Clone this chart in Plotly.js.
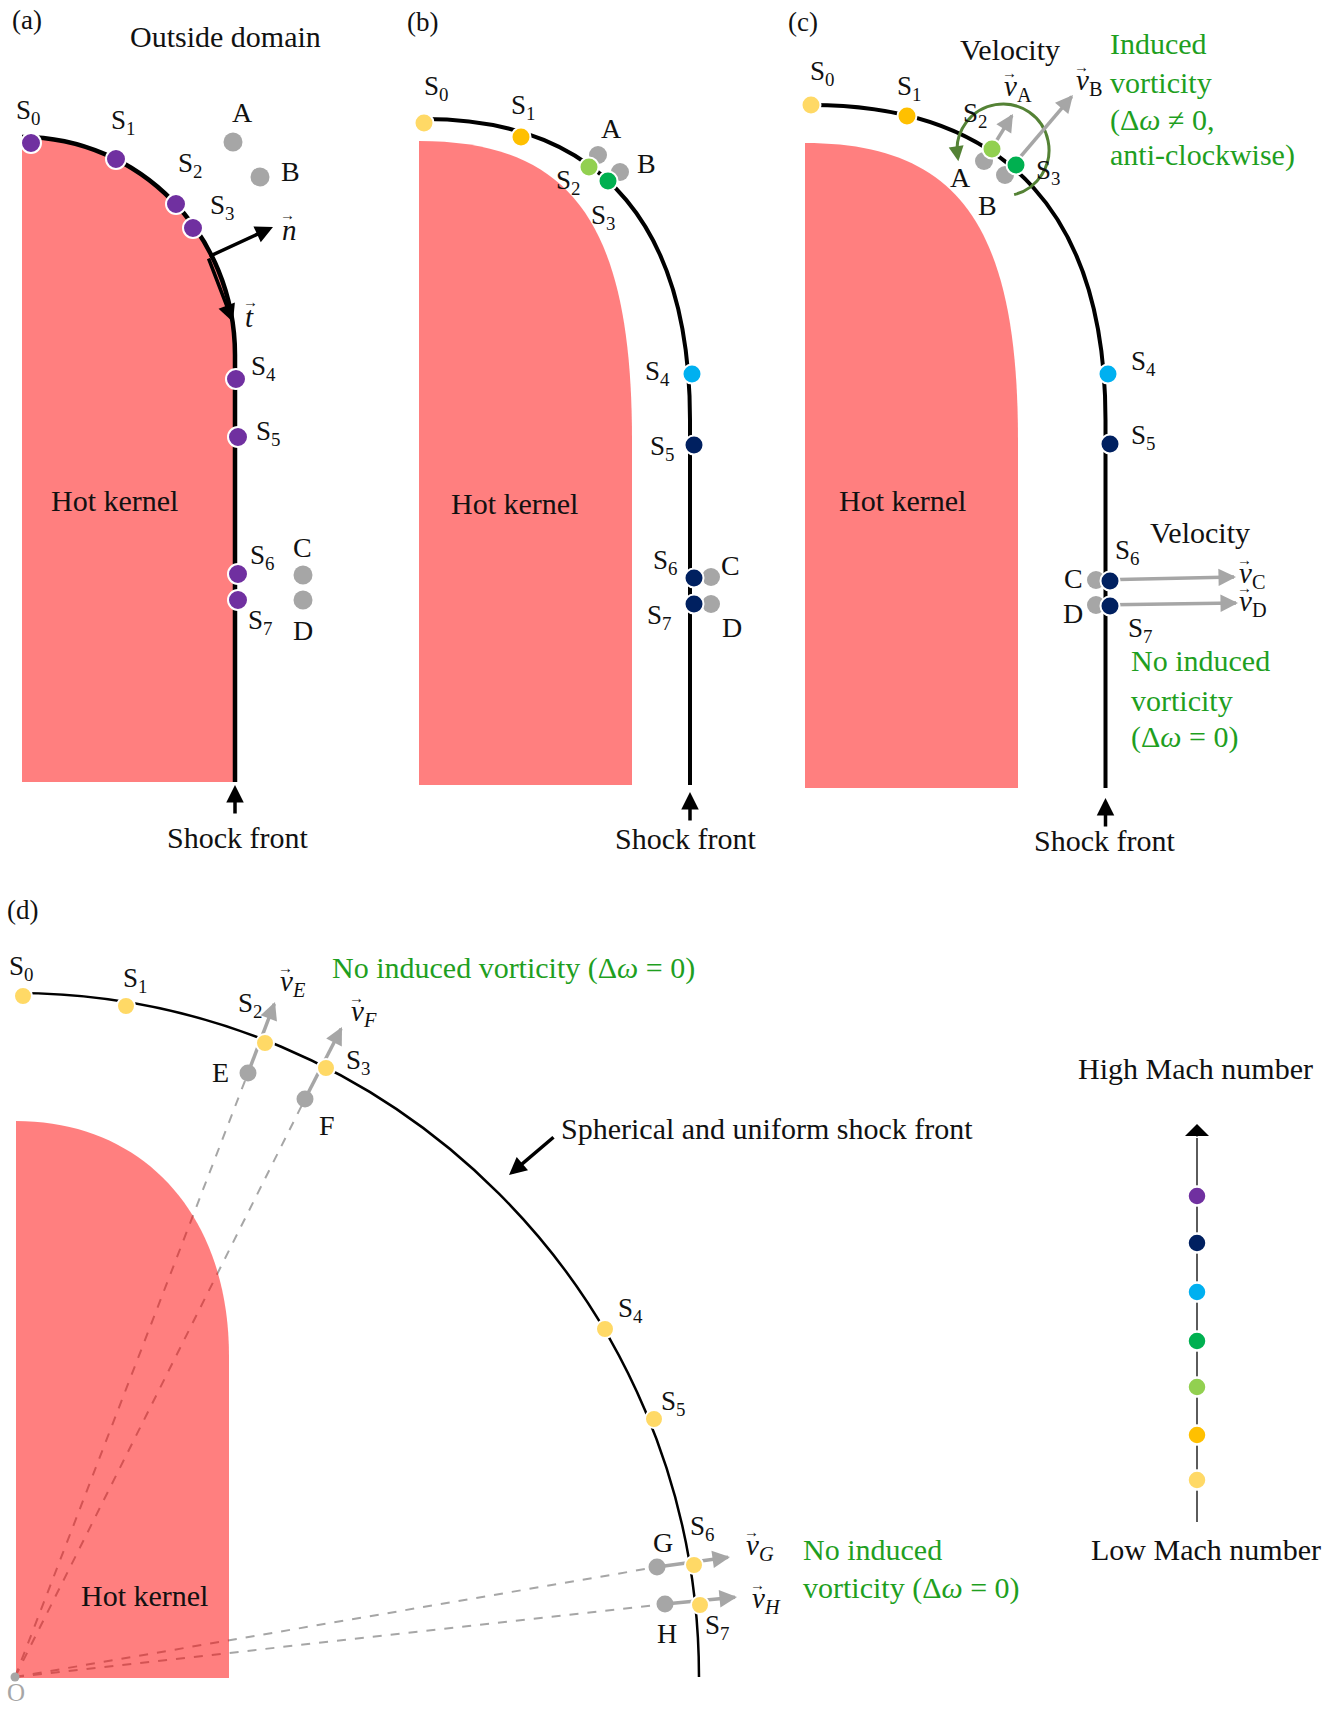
<!DOCTYPE html>
<html><head><meta charset="utf-8">
<script src="https://cdn.plot.ly/plotly-3.0.1.min.js"></script>
<style>body{margin:0;background:#fff}</style>
</head><body><div id="chart" style="width:1336px;height:1709px"></div>
<script>
// ---------- data ----------
const machColors = ['#FFD966','#FFC000','#92D050','#00B050','#00B0F0','#002060','#7030A0']; // low -> high Mach
const legendX = 1197;
const legendY = [1480,1435,1387,1341,1292,1243,1196];

const sNames = ['0','1','2','3','4','5','6','7'];
// panel (a)
const aDotX = [31,116,176,193,236,238,238,238];
const aDotY = [143,159,204,228,379,437,574,600];
const aLabX = [28,123,190,222,263,268,262,260];
const aLabY = [112,122,165,207,368,433,557,622];
const aColorIdx = [6,6,6,6,6,6,6,6];
// panel (b)
const bDotX = [424,521,589,608,692,694,694,694];
const bDotY = [123,137,167,181,374,445,578,604];
const bLabX = [436,523,568,603,657,662,665,659];
const bLabY = [88,107,182,217,373,448,562,617];
const bColorIdx = [0,1,2,3,4,5,5,5];
// panel (c)
const cDotX = [811,907,992,1016,1108,1110,1110,1110];
const cDotY = [105,116,149,165,374,444,581,606];
const cLabX = [822,909,975,1048,1143,1143,1127,1140];
const cLabY = [73,88,115,172,363,437,552,630];
const cColorIdx = [0,1,2,3,4,5,5,5];
// panel (d)
const dDotX = [23,126,265,326,605,654,694,700];
const dDotY = [996,1006,1043,1068,1329,1419,1565,1605];
const dLabX = [21,135,250,358,630,673,702,717];
const dLabY = [968,980,1005,1062,1310,1403,1528,1627];
const dColorIdx = [0,0,0,0,0,0,0,0];

// gray fluid particles
const abcNames = ['A','B','C','D'];
const aGrayX = [233,260,303,303], aGrayY = [142,177,575,600];
const aGrayLabX = [242,290,302,303], aGrayLabY = [112,171,547,630];
const bGrayX = [598,620,711,711], bGrayY = [155,172,577,604];
const bGrayLabX = [611,646,730,732], bGrayLabY = [128,163,565,627];
const cGrayX = [984,1005,1096,1096], cGrayY = [161,175,580,605];
const cGrayLabX = [960,987,1073,1073], cGrayLabY = [177,205,578,613];
const efghNames = ['E','F','G','H'];
const dGrayX = [248,305,657,665], dGrayY = [1073,1099,1567,1604];
const dGrayLabX = [220,327,663,667], dGrayLabY = [1072,1125,1542,1633];
const originX = 15, originY = 1677;

// velocity vectors: tips and label anchors
const cVecTipX = [1013,1073,1236,1238], cVecTipY = [114,95,577,603];
const cVecLabX = [1002,1074,1237,1237], cVecLabY = [88,82,575,603];
const dVecTipX = [275,342,730,737], dVecTipY = [1002,1027,1557,1597];
const dVecLabX = [278,349,744,750], dVecLabY = [983,1013,1547,1600];

// ---------- style ----------
const GRAY = '#A6A6A6', GREEN = '#1f9f1f', DARKGREEN = '#548235', TXT = '#111';
const KERNEL = 'rgba(255,0,0,0.5)';
const FONT = 'Liberation Serif';
const FS = 30;

// ---------- geometry helpers ----------
function kernelPath(left, top, right, yv, bottom, k){
  const w = right-left, h = yv-top;
  return `M ${left},${bottom} L ${left},${top} C ${left+k*w},${top} ${right},${yv-k*h} ${right},${yv} L ${right},${bottom} Z`;
}
function frontPath(x0, y0, xv, yv, bottom, c1, c2){
  return `M ${x0},${y0} C ${x0+c1},${y0} ${xv},${yv-c2} ${xv},${yv} L ${xv},${bottom}`;
}
function arcPath(cx, cy, r, a0, a1){
  const n = Math.ceil(Math.abs(a1-a0)/90), step = (a1-a0)/n, rad = Math.PI/180;
  const P = a => [cx+r*Math.cos(a*rad), cy-r*Math.sin(a*rad)];
  const D = a => [-Math.sin(a*rad), -Math.cos(a*rad)];
  const h = 4/3*Math.tan(step*rad/4)*r;
  let s = 'M '+P(a0).join(',');
  for(let i=0;i<n;i++){
    const t0=a0+i*step, t1=t0+step, p0=P(t0), p3=P(t1), d0=D(t0), d1=D(t1);
    s += ` C ${p0[0]+h*d0[0]},${p0[1]+h*d0[1]} ${p3[0]-h*d1[0]},${p3[1]-h*d1[1]} ${p3[0]},${p3[1]}`;
  }
  return s;
}
function arcPoint(cx,cy,r,a){const rad=Math.PI/180;return [cx+r*Math.cos(a*rad), cy-r*Math.sin(a*rad)];}

const shapes = [];
const annotations = [];
function line(x0,y0,x1,y1,color,width,dash){
  shapes.push({type:'line',xref:'x',yref:'y',x0,y0,x1,y1,layer:'below',line:{color,width,dash:dash||'solid'}});
}
function arrow(x0,y0,x1,y1,color,width,head,size){
  annotations.push({x:x1,y:y1,ax:x0,ay:y0,xref:'x',yref:'y',axref:'x',ayref:'y',text:'',showarrow:true,
    arrowhead:head,arrowsize:size,arrowwidth:width,arrowcolor:color,standoff:0,startstandoff:0});
}
// shaft as shape (under the dots) + head as annotation
function vecArrow(x0,y0,x1,y1,color,width,head,size,headLen){
  const L = Math.hypot(x1-x0,y1-y0), ux=(x1-x0)/L, uy=(y1-y0)/L;
  line(x0,y0,x1-ux*2,y1-uy*2,color,width);
  arrow(x1-ux*headLen,y1-uy*headLen,x1,y1,color,width,head,size);
}
function text(x,y,t,opts){
  opts = opts||{};
  annotations.push({x,y,xref:'x',yref:'y',text:t,showarrow:false,xanchor:opts.xanchor||'center',yanchor:'middle',
    font:{family:FONT,size:opts.size||FS,color:opts.color||TXT}});
}
function vecLabel(xLeft,yMid,letter,sub,italicSub){
  const s = italicSub ? `<i>${sub}</i>` : sub;
  text(xLeft, yMid, `<i>${letter}</i>` + (sub?`<sub>${s}</sub>`:''), {xanchor:'left', size:29});
  text(xLeft+7, yMid-15, '→', {size:15});
}

// ---------- shapes ----------
// dashed radial lines in (d) (under the kernel)
for(let i=0;i<4;i++) line(originX,originY,dGrayX[i],dGrayY[i],GRAY,2,'dash');

// hot kernels
shapes.push({type:'path',layer:'below',path:kernelPath(22,137,235,355,782,0.5523),fillcolor:KERNEL,line:{width:0}});
shapes.push({type:'path',layer:'below',path:kernelPath(419,141,632,440,785,0.72),fillcolor:KERNEL,line:{width:0}});
shapes.push({type:'path',layer:'below',path:kernelPath(805,143,1018,440,788,0.72),fillcolor:KERNEL,line:{width:0}});
shapes.push({type:'path',layer:'below',path:kernelPath(16,1121,229,1356,1678,0.6),fillcolor:KERNEL,line:{width:0}});

// shock fronts
shapes.push({type:'path',layer:'below',path:frontPath(22,137,235,355,782,0.5523*213,0.5523*218),line:{color:'#000',width:4.5}});
shapes.push({type:'path',layer:'below',path:frontPath(424,119,690,420,785,185,185),line:{color:'#000',width:4}});
shapes.push({type:'path',layer:'below',path:frontPath(811,105,1105.5,420,788,200,200),line:{color:'#000',width:4}});
shapes.push({type:'path',layer:'below',path:frontPath(originX,993,originX+684,originY,originY,0.5523*684,0.5523*684),line:{color:'#000',width:2.5}});

// legend axis line
line(legendX,1522,legendX,1138,'#333',1.6);
arrow(legendX,1138,legendX,1124,'#000',1.6,1,2.5);

// vortex arc (c)
const vx=1003, vy=150, vr=46, va0=-76, va1=192;
shapes.push({type:'path',layer:'below',path:arcPath(vx,vy,vr,va0,va1-5),line:{color:DARKGREEN,width:3}});
{ const t=arcPoint(vx,vy,vr,va1-9), h=arcPoint(vx,vy,vr,va1+2); arrow(t[0],t[1],h[0],h[1],DARKGREEN,3,2,1); }

// normal / tangent vectors (a)
arrow(208,257,273,227,'#000',3.5,2,1);
arrow(208,257,233,322,'#000',3.5,2,1);

// shock front arrows
arrow(235,815,235,785,'#000',3.5,2,1);
arrow(690,822,690,792,'#000',3.5,2,1);
arrow(1105.5,828,1105.5,798,'#000',3.5,2,1);
// spherical front pointer
arrow(555,1136,509,1175,'#000',3.5,2,1);

// velocity vectors (c)
for(let i=0;i<4;i++) vecArrow(cGrayX[i],cGrayY[i],cVecTipX[i],cVecTipY[i],GRAY,3.5,2,1,12);
// velocity vectors (d)
for(let i=0;i<4;i++) vecArrow(dGrayX[i],dGrayY[i],dVecTipX[i],dVecTipY[i],GRAY,3.5,2,1,12);

// ---------- traces ----------
const traces = [];
function dots(xs,ys,colors,size,lw){
  traces.push({type:'scatter',mode:'markers',x:xs,y:ys,hoverinfo:'skip',
    marker:{size,color:colors,line:{color:'#fff',width:lw}}});
}
dots(aGrayX,aGrayY,GRAY,19,0);
dots(bGrayX,bGrayY,GRAY,18,0);
dots(cGrayX,cGrayY,GRAY,18,0);
dots(dGrayX,dGrayY,GRAY,17,0);
dots([originX],[originY],GRAY,9,0);
dots(aDotX,aDotY,aColorIdx.map(i=>machColors[i]),20,2);
dots(bDotX,bDotY,bColorIdx.map(i=>machColors[i]),19,2);
dots(cDotX,cDotY,cColorIdx.map(i=>machColors[i]),19,2);
dots(dDotX,dDotY,dColorIdx.map(i=>machColors[i]),18,2);
dots(legendY.map(()=>legendX),legendY,machColors,19,2.5);

// ---------- texts ----------
const panels = [[aLabX,aLabY],[bLabX,bLabY],[cLabX,cLabY],[dLabX,dLabY]];
panels.forEach(([lx,ly])=>{ for(let i=0;i<8;i++) text(lx[i],ly[i],`S<sub>${sNames[i]}</sub>`,{size:27}); });
for(let i=0;i<4;i++){
  text(aGrayLabX[i],aGrayLabY[i],abcNames[i],{size:28});
  text(bGrayLabX[i],bGrayLabY[i],abcNames[i],{size:28});
  text(cGrayLabX[i],cGrayLabY[i],abcNames[i],{size:28});
  text(dGrayLabX[i],dGrayLabY[i],efghNames[i],{size:28});
}
text(27,20,'(a)',{size:27}); text(422,22,'(b)',{size:27}); text(803,22,'(c)',{size:27}); text(22,910,'(d)',{size:27});
text(225,36,'Outside domain');
text(114,500,'Hot kernel'); text(514,503,'Hot kernel'); text(902,500,'Hot kernel'); text(144,1595,'Hot kernel');
text(237,837,'Shock front'); text(685,838,'Shock front'); text(1104,840,'Shock front');
text(1010,49,'Velocity'); text(1200,532,'Velocity');
vecLabel(280,230,'n','',false);
vecLabel(243,317,'t','',false);
for(let i=0;i<4;i++){
  vecLabel(cVecLabX[i],cVecLabY[i],'v',abcNames[i],false);
  vecLabel(dVecLabX[i],dVecLabY[i],'v',efghNames[i],true);
}
['Induced','vorticity','(Δ<i>ω</i> ≠ 0,','anti-clockwise)'].forEach((t,i)=>text(1108,[43,82,120,155][i],t,{xanchor:'left',color:GREEN}));
['No induced','vorticity','(Δ<i>ω</i> = 0)'].forEach((t,i)=>text(1129,[660,700,737][i],t,{xanchor:'left',color:GREEN}));
text(513,968,'No induced vorticity (Δ<i>ω</i> = 0)',{color:GREEN});
text(801,1549,'No induced',{xanchor:'left',color:GREEN});
text(801,1588,'vorticity (Δ<i>ω</i> = 0)',{xanchor:'left',color:GREEN});
text(767,1128,'Spherical and uniform shock front');
text(1195,1068,'High Mach number');
text(1206,1549,'Low Mach number');
text(originX+1,1692,'O',{size:25,color:GRAY});

const layout = {
  width:1336, height:1709, margin:{l:0,r:0,t:0,b:0},
  paper_bgcolor:'#fff', plot_bgcolor:'#fff', showlegend:false,
  font:{family:FONT,size:FS,color:TXT},
  xaxis:{range:[0,1336],visible:false,fixedrange:true},
  yaxis:{range:[1709,0],visible:false,fixedrange:true},
  shapes, annotations
};
Plotly.newPlot('chart', traces, layout, {displayModeBar:false, staticPlot:true});
</script></body></html>
